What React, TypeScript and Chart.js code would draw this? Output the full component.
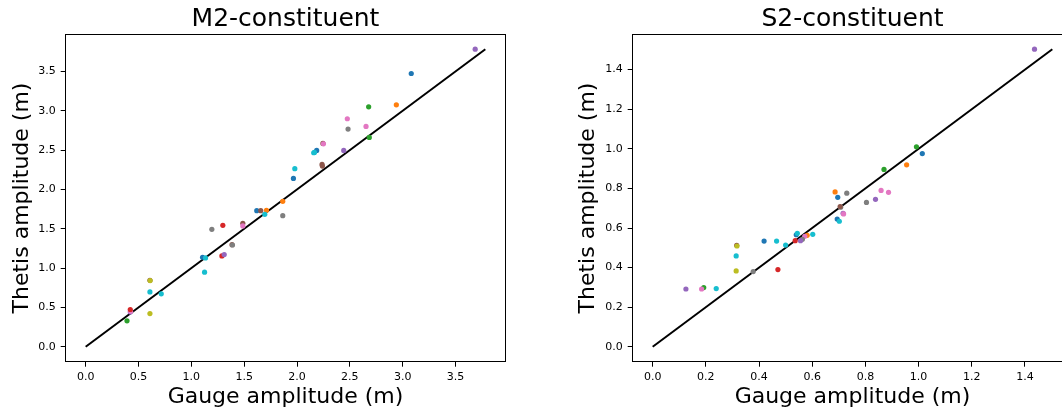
import React, { useEffect, useRef } from "react";
import { Chart, registerables } from "chart.js";

Chart.register(...registerables);

const BLUE = "#1f77b4";
const ORANGE = "#ff7f0e";
const GREEN = "#2ca02c";
const RED = "#d62728";
const PURPLE = "#9467bd";
const BROWN = "#8c564b";
const PINK = "#e377c2";
const GRAY = "#7f7f7f";
const OLIVE = "#bcbd22";
const CYAN = "#17becf";

// ---- M2 constituent ----
const m2Gauge = [
  3.686, 3.081, 2.94, 2.678, 2.476, 2.653, 2.483, 2.684, 2.245, 2.25, 2.186, 2.158, 2.165,
  2.442, 2.237, 2.24, 1.979, 1.966, 1.865, 1.865, 1.619, 1.657, 1.711, 1.695, 1.298, 1.194,
  1.487, 1.487, 1.385, 1.389, 1.289, 1.311, 1.106, 1.134, 1.125, 0.608, 0.61, 0.608, 0.715,
  0.608, 0.422, 0.425, 0.422, 0.391,
];
const m2Thetis = [
  3.782, 3.473, 3.075, 3.05, 2.898, 2.8, 2.767, 2.661, 2.585, 2.58, 2.496, 2.466, 2.47,
  2.496, 2.318, 2.297, 2.263, 2.14, 1.849, 1.667, 1.73, 1.73, 1.734, 1.684, 1.544, 1.493,
  1.569, 1.536, 1.298, 1.294, 1.155, 1.172, 1.138, 1.129, 0.948, 0.846, 0.842, 0.698, 0.673,
  0.423, 0.444, 0.452, 0.474, 0.33,
];
const m2Colors = [
  PURPLE, BLUE, ORANGE, GREEN, PINK, PINK, GRAY, GREEN, BROWN, PINK, BLUE, CYAN, CYAN,
  PURPLE, BROWN, BROWN, CYAN, BLUE, ORANGE, GRAY, BLUE, BROWN, ORANGE, CYAN, RED, GRAY,
  BROWN, PINK, BROWN, GRAY, RED, PURPLE, BLUE, CYAN, CYAN, BROWN, OLIVE, CYAN, CYAN,
  OLIVE, PURPLE, PINK, RED, GREEN,
];
const m2Ticks = [0, 0.5, 1.0, 1.5, 2.0, 2.5, 3.0, 3.5];

// ---- S2 constituent ----
const s2Gauge = [
  1.436, 0.992, 1.014, 0.955, 0.87, 0.859, 0.887, 0.686, 0.73, 0.696, 0.804, 0.838, 0.707,
  0.705, 0.716, 0.718, 0.694, 0.702, 0.602, 0.581, 0.572, 0.54, 0.544, 0.563, 0.556, 0.536,
  0.5, 0.466, 0.419, 0.471, 0.378, 0.316, 0.317, 0.314, 0.314, 0.239, 0.192, 0.184, 0.125,
];
const s2Thetis = [
  1.503, 1.01, 0.976, 0.919, 0.896, 0.79, 0.78, 0.782, 0.776, 0.755, 0.729, 0.745, 0.705,
  0.708, 0.674, 0.671, 0.645, 0.634, 0.568, 0.563, 0.558, 0.566, 0.573, 0.543, 0.536, 0.536,
  0.514, 0.534, 0.534, 0.39, 0.38, 0.513, 0.509, 0.459, 0.383, 0.294, 0.299, 0.292, 0.292,
];
const s2Colors = [
  PURPLE, GREEN, BLUE, ORANGE, GREEN, PINK, PINK, ORANGE, GRAY, BLUE, GRAY, PURPLE, GRAY,
  BROWN, PURPLE, PINK, BLUE, CYAN, CYAN, ORANGE, PINK, BLUE, CYAN, GRAY, PURPLE, RED,
  CYAN, CYAN, BLUE, RED, GRAY, BROWN, OLIVE, CYAN, OLIVE, CYAN, GREEN, PINK, PURPLE,
];
const s2Ticks = [0, 0.2, 0.4, 0.6, 0.8, 1.0, 1.2, 1.4];

const FONT = "'DejaVu Sans', 'Liberation Sans', sans-serif";
const H = 409;

const framePlugin = {
  id: "frame",
  afterDraw(chart: any) {
    const { ctx, chartArea: a } = chart;
    const l = Math.floor(a.left) + 0.5;
    const t = Math.floor(a.top) + 0.5;
    const r = Math.floor(a.right) + 0.5;
    const b = Math.floor(a.bottom) + 0.5;
    ctx.save();
    ctx.strokeStyle = "#000";
    ctx.lineWidth = 1;
    ctx.strokeRect(l, t, r - l, b - t);
    ctx.restore();
  },
};

type PanelSpec = {
  title: string;
  gauge: number[];
  thetis: number[];
  colors: string[];
  ticks: number[];
  canvasWidth: number;
  areaLeft: number;
  areaRight: number;
  yTitlePad: number;
};

const AREA_TOP = 34.3;
const AREA_BOTTOM = 361.7;

function makeConfig(p: PanelSpec): any {
  const lineEnd = Math.max(...p.thetis);
  const hi = Math.max(lineEnd, ...p.gauge);
  const pad = 0.05 * hi;
  const points = p.gauge.map((g, i) => ({ x: g, y: p.thetis[i] }));
  const tickFont = { family: FONT, size: 11 };
  const grid = {
    drawOnChartArea: false,
    drawTicks: true,
    tickLength: 5,
    color: "#000",
    lineWidth: 1,
  };
  return {
    type: "scatter",
    data: {
      datasets: [
        {
          data: points,
          pointBackgroundColor: p.colors,
          pointBorderColor: p.colors,
          pointBorderWidth: 0,
          pointRadius: 2.6,
          order: 0,
        },
        {
          data: [
            { x: 0, y: 0 },
            { x: lineEnd, y: lineEnd },
          ],
          showLine: true,
          borderColor: "#000",
          borderWidth: 2,
          pointRadius: 0,
          fill: false,
          order: 1,
        },
      ],
    },
    options: {
      animation: false,
      responsive: false,
      events: [],
      layout: {
        padding: { left: 0, top: 0, bottom: 0, right: p.canvasWidth - p.areaRight },
      },
      plugins: {
        legend: { display: false },
        tooltip: { enabled: false },
        title: {
          display: true,
          text: p.title,
          fullSize: false,
          color: "#000",
          font: { family: FONT, size: 25, weight: "normal", lineHeight: 1 },
          padding: { top: 7.15, bottom: AREA_TOP - 25 - 7.15 },
        },
      },
      scales: {
        x: {
          type: "linear",
          position: "bottom",
          min: -pad,
          max: hi + pad,
          afterBuildTicks: (s: any) => {
            s.ticks = p.ticks.map((v) => ({ value: v }));
          },
          afterFit: (s: any) => {
            s.height = H - AREA_BOTTOM;
          },
          ticks: {
            callback: (v: any) => Number(v).toFixed(1),
            font: tickFont,
            color: "#000",
            padding: 3.6,
            maxRotation: 0,
            autoSkip: false,
          },
          grid,
          border: { display: false },
          title: {
            display: true,
            text: "Gauge amplitude (m)",
            color: "#000",
            font: { family: FONT, size: 22, lineHeight: 1 },
            padding: { top: 0, bottom: 0.6 },
          },
        },
        y: {
          type: "linear",
          position: "left",
          min: -pad,
          max: hi + pad,
          afterBuildTicks: (s: any) => {
            s.ticks = p.ticks.map((v) => ({ value: v }));
          },
          afterFit: (s: any) => {
            s.width = p.areaLeft;
          },
          ticks: {
            callback: (v: any) => Number(v).toFixed(1),
            font: tickFont,
            color: "#000",
            padding: 4.9,
            autoSkip: false,
          },
          grid,
          border: { display: false },
          title: {
            display: true,
            text: "Thetis amplitude (m)",
            color: "#000",
            font: { family: FONT, size: 22, lineHeight: 1 },
            padding: { top: p.yTitlePad, bottom: 0 },
          },
        },
      },
    },
    plugins: [framePlugin],
  };
}

function Panel({ spec, left }: { spec: PanelSpec; left: number }) {
  const ref = useRef<HTMLCanvasElement | null>(null);
  useEffect(() => {
    if (!ref.current) return;
    const chart = new Chart(ref.current, makeConfig(spec));
    return () => chart.destroy();
  }, []);
  return (
    <canvas
      ref={ref}
      width={spec.canvasWidth}
      height={H}
      style={{ position: "absolute", left, top: 0, width: spec.canvasWidth, height: H }}
    />
  );
}

const leftSpec: PanelSpec = {
  title: "M2-constituent",
  gauge: m2Gauge,
  thetis: m2Thetis,
  colors: m2Colors,
  ticks: m2Ticks,
  canvasWidth: 531,
  areaLeft: 65.7,
  areaRight: 505.3,
  yTitlePad: 11.1,
};

const rightSpec: PanelSpec = {
  title: "S2-constituent",
  gauge: s2Gauge,
  thetis: s2Thetis,
  colors: s2Colors,
  ticks: s2Ticks,
  canvasWidth: 560,
  areaLeft: 92.7,
  areaRight: 532.3,
  yTitlePad: 37.7,
};

export default function App() {
  return (
    <div
      style={{
        position: "fixed",
        left: 0,
        top: 0,
        width: 1062,
        height: H,
        overflow: "hidden",
        background: "#fff",
      }}
    >
      <Panel spec={leftSpec} left={0} />
      <Panel spec={rightSpec} left={540} />
    </div>
  );
}
